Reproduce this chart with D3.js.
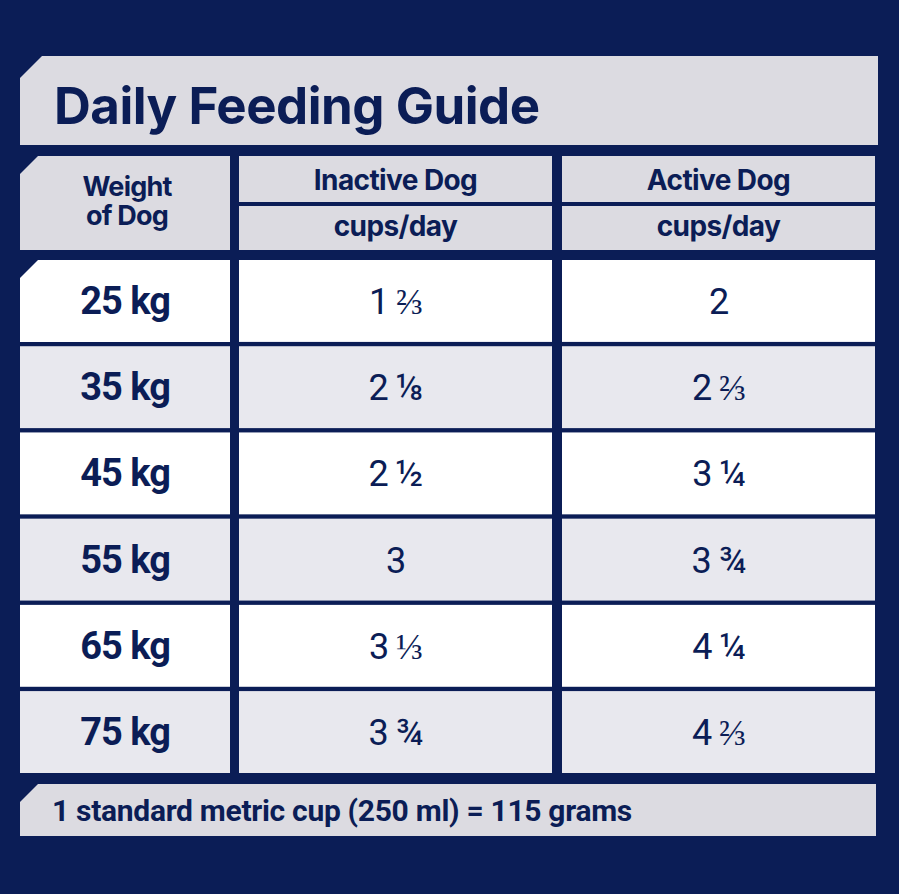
<!DOCTYPE html>
<html><head><meta charset="utf-8">
<script src="https://cdn.jsdelivr.net/npm/d3@7"></script>
<style>body{margin:0;background:#0b1d56}</style></head>
<body><div id="chart"></div>
<script>
const weights = ['25 kg', '35 kg', '45 kg', '55 kg', '65 kg', '75 kg'];
const inactive = ['1 ⅔', '2 ⅛', '2 ½', '3', '3 ⅓', '3 ¾'];
const active = ['2', '2 ⅔', '3 ¼', '3 ¾', '4 ¼', '4 ⅔'];
const columns = ['Inactive Dog', 'Active Dog'];

const W = 899, H = 894, navy = '#0b1d56', grey = '#dcdbe1', light = '#e8e8ee';
const svg = d3.select('#chart').append('svg').attr('width', W).attr('height', H);
svg.append('rect').attr('width', W).attr('height', H).attr('fill', navy);

// panel with cut top-left corner
function cutRect(x, y, w, h, c, fill) {
    svg.append('path')
        .attr('d', `M${x},${y + c}L${x + c},${y}H${x + w}V${y + h}H${x}Z`)
        .attr('fill', fill);
}

cutRect(20, 56, 858, 89, 22, grey);
svg.append('text').attr('x', 54).attr('y', 124).text('Daily Feeding Guide')
    .attr('font-family', 'Inter').attr('font-weight', 700).attr('font-size', 51)
    .attr('letter-spacing', -0.5).attr('fill', navy);

const colX = [[20, 230], [239, 552], [562, 875]];
const y = d3.scaleBand().domain(weights).range([260, 773]).paddingInner(0.05);

// header
cutRect(20, 156, 210, 94, 18, grey);
svg.append('text').attr('x', 127).attr('y', 196).attr('text-anchor', 'middle')
    .attr('font-family', 'Inter').attr('font-weight', 700).attr('font-size', 27)
    .attr('letter-spacing', -0.8).attr('fill', navy)
    .selectAll('tspan').data(['Weight', 'of Dog']).join('tspan')
    .attr('x', 127).attr('dy', (d, i) => i ? 29 : 0).text(d => d);

columns.forEach((c, i) => {
    const [x0, x1] = colX[i + 1];
    svg.append('rect').attr('x', x0).attr('y', 156).attr('width', x1 - x0).attr('height', 46).attr('fill', grey);
    svg.append('rect').attr('x', x0).attr('y', 206).attr('width', x1 - x0).attr('height', 44).attr('fill', grey);
    [[c, 190], ['cups/day', 236]].forEach(([t, ty]) => {
        svg.append('text').attr('x', (x0 + x1) / 2).attr('y', ty).attr('text-anchor', 'middle')
            .attr('font-family', 'Inter').attr('font-weight', 700).attr('font-size', 28)
            .attr('letter-spacing', -0.6).attr('fill', navy).text(t);
    });
});

// body rows
weights.forEach((w, r) => {
    const fill = r % 2 ? light : '#ffffff';
    const yy = y(w), h = y.bandwidth();
    const cells = [w, inactive[r], active[r]];
    cells.forEach((t, ci) => {
        const [x0, x1] = colX[ci];
        if (r === 0 && ci === 0) cutRect(x0, yy, x1 - x0, h, 18, fill);
        else svg.append('rect').attr('x', x0).attr('y', yy).attr('width', x1 - x0).attr('height', h).attr('fill', fill);
        svg.append('text').attr('x', (x0 + x1) / 2).attr('y', yy + h / 2 + 13)
            .attr('text-anchor', 'middle').attr('font-family', 'Roboto')
            .attr('font-weight', ci ? 400 : 700).attr('font-size', ci ? 36 : 38)
            .attr('letter-spacing', -1).attr('fill', navy).text(t);
    });
});

// footer
cutRect(20, 784, 856, 52, 18, grey);
svg.append('text').attr('x', 52).attr('y', 821).text('1 standard metric cup (250 ml) = 115 grams')
    .attr('font-family', 'Roboto').attr('font-weight', 700).attr('font-size', 30)
    .attr('letter-spacing', -0.3).attr('fill', navy);
</script></body></html>
